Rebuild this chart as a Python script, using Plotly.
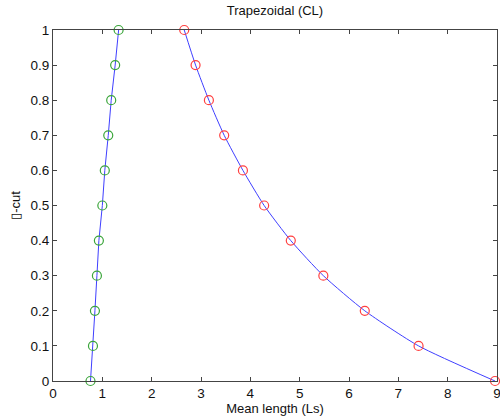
import plotly.graph_objects as go

alpha = [0, 0.1, 0.2, 0.3, 0.4, 0.5, 0.6, 0.7, 0.8, 0.9, 1.0]
left_x = [0.76, 0.81, 0.85, 0.89, 0.93, 1.00, 1.05, 1.12, 1.18, 1.26, 1.33]
right_x = [8.96, 7.41, 6.32, 5.48, 4.82, 4.28, 3.85, 3.47, 3.16, 2.89, 2.66]

x_ticks = [0, 1, 2, 3, 4, 5, 6, 7, 8, 9]
y_ticks = [0, 0.1, 0.2, 0.3, 0.4, 0.5, 0.6, 0.7, 0.8, 0.9, 1]
y_tick_labels = ["0", "0.1", "0.2", "0.3", "0.4", "0.5", "0.6", "0.7", "0.8", "0.9", "1"]

FONT = "Liberation Sans, Arial"
fig = go.Figure()
line_col = "#3f3fff"
fig.add_trace(go.Scatter(x=left_x, y=alpha, mode="lines", line=dict(color=line_col, width=1), hoverinfo="skip"))
fig.add_trace(go.Scatter(x=right_x, y=alpha, mode="lines", line=dict(color=line_col, width=1, shape="spline", smoothing=0.6), hoverinfo="skip"))
fig.add_trace(go.Scatter(x=left_x, y=alpha, mode="markers",
                         marker=dict(symbol="circle-open", size=9, color="#3aa53a", line=dict(width=1.2))))
fig.add_trace(go.Scatter(x=right_x, y=alpha, mode="markers",
                         marker=dict(symbol="circle-open", size=9, color="#ff4040", line=dict(width=1.2))))

axis_common = dict(showgrid=False, zeroline=False, showline=True, linecolor="#444", linewidth=1,
                   mirror="ticks", ticks="inside", ticklen=4, tickcolor="#444",
                   ticklabeloverflow="allow", automargin=False,
                   tickfont=dict(family=FONT, size=13.5, color="#111"))

fig.update_layout(
    width=500, height=420,
    margin=dict(l=53, r=3, t=30, b=39),
    paper_bgcolor="white", plot_bgcolor="white",
    showlegend=False,
    title=dict(text="Trapezoidal (CL)", xref="paper", x=0.5, xanchor="center", y=0.985, yanchor="top",
               font=dict(family=FONT, size=13, color="#111")),
    xaxis=dict(range=[0, 9], tickvals=x_ticks, title=dict(text="Mean length (Ls)", standoff=1,
               font=dict(family=FONT, size=13, color="#111")), **axis_common),
    yaxis=dict(range=[0, 1], tickvals=y_ticks, ticktext=y_tick_labels,
               title=dict(text="▯-cut", standoff=6,
               font=dict(family=FONT, size=13, color="#111")), **axis_common),
)
for tr in fig.data:
    tr.cliponaxis = False

fig.write_html("out.html")
